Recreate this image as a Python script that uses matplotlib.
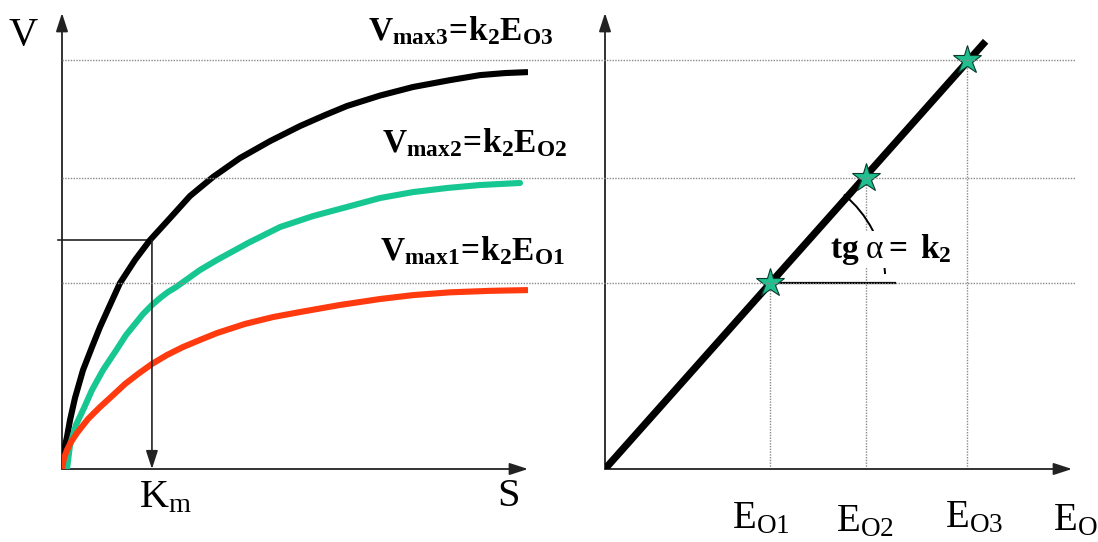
import matplotlib
matplotlib.use('Agg')
import matplotlib.pyplot as plt
from matplotlib.lines import Line2D
from matplotlib.patches import Arc
from matplotlib.transforms import blended_transform_factory

plt.rcParams['font.family'] = ['Liberation Serif', 'DejaVu Serif']
plt.rcParams['mathtext.fontset'] = 'custom'
plt.rcParams['mathtext.rm'] = 'Liberation Serif'
plt.rcParams['mathtext.it'] = 'Liberation Serif:italic'
plt.rcParams['mathtext.bf'] = 'Liberation Serif:bold'

# ---------------- data ----------------
# Left panel: V vs S curves
s_black = [0.0, 0.043, 0.107, 0.172, 0.279, 0.451, 0.644, 0.815, 1.03, 1.245, 1.567, 1.888,
           2.318, 2.747, 3.240, 3.820, 4.464, 5.107, 5.644, 6.116, 6.824, 7.532, 8.326, 8.970,
           9.506, 9.979]
v_black = [0.0, 0.102, 0.172, 0.263, 0.382, 0.532, 0.656, 0.763, 0.882, 1.0, 1.124, 1.231,
           1.349, 1.468, 1.570, 1.672, 1.763, 1.844, 1.903, 1.952, 2.008, 2.054, 2.091, 2.118,
           2.129, 2.134]

s_green = [0.107, 0.172, 0.300, 0.472, 0.644, 0.880, 1.180, 1.373, 1.567, 1.738, 1.931, 2.103,
           2.275, 2.446, 2.597, 2.961, 3.326, 3.991, 4.678, 5.386, 6.116, 6.824, 7.532, 8.262,
           8.970, 9.828]
v_green = [0.0, 0.129, 0.237, 0.328, 0.425, 0.532, 0.645, 0.720, 0.780, 0.833, 0.882, 0.919,
           0.952, 0.978, 1.005, 1.070, 1.124, 1.215, 1.301, 1.360, 1.409, 1.457, 1.489, 1.511,
           1.527, 1.538]

s_red = [0.0, 0.043, 0.107, 0.193, 0.322, 0.558, 0.815, 1.073, 1.352, 1.631, 1.931, 2.253,
         2.597, 2.961, 3.326, 3.927, 4.528, 5.107, 5.966, 6.824, 7.532, 8.326, 9.185, 9.979]
v_red = [0.0, 0.059, 0.102, 0.145, 0.194, 0.269, 0.333, 0.392, 0.457, 0.511, 0.565, 0.613,
         0.656, 0.694, 0.731, 0.780, 0.817, 0.844, 0.882, 0.914, 0.935, 0.950, 0.958, 0.962]

km = 1.93
v_km = 1.23

# Right panel: V vs E0
e0 = [1.0, 1.577, 2.19]
vmax = [1.0, 1.565, 2.20]
k2 = 1.0
e_line = [0.0, 2.30]
e_tangent_end = 1.75

vmax_labels = [r'$\mathbf{V_{max1}\!=\!k_2E_{O1}}$',
               r'$\mathbf{V_{max2}\!=\!k_2E_{O2}}$',
               r'$\mathbf{V_{max3}\!=\!k_2E_{O3}}$']
e_labels = [r'$\mathrm{E_{O1}}$', r'$\mathrm{E_{O2}}$', r'$\mathrm{E_{O3}}$']

# ---------------- figure ----------------
W, H = 1098, 542
fig = plt.figure(figsize=(W / 100, H / 100), dpi=100)

def fx(px):
    return px / W

def fy(py):
    return 1 - py / H

ax1 = fig.add_axes([fx(62), fy(469), (528 - 62) / W, (469 - 13) / H])
ax2 = fig.add_axes([fx(605), fy(469), (1072 - 605) / W, (469 - 13) / H])
ax1.set_xlim(0, 10)
ax1.set_ylim(0, 2.452)
ax2.set_xlim(0, 2.822)
ax2.set_ylim(0, 2.452)
for ax in (ax1, ax2):
    ax.set_axis_off()
    arrow = dict(arrowstyle='-|>,head_length=0.8,head_width=0.26', color='#222222',
                 lw=1.3, shrinkA=0, shrinkB=0, mutation_scale=14)
    ax.annotate('', xy=(0, 1), xytext=(0, 0), xycoords='axes fraction',
                arrowprops=arrow, annotation_clip=False)
    ax.annotate('', xy=(1, 0), xytext=(0, 0), xycoords='axes fraction',
                arrowprops=arrow, annotation_clip=False)

# dotted horizontal lines across both panels
dot_tr = blended_transform_factory(fig.transFigure, ax1.transData)
for v in vmax:
    fig.add_artist(Line2D([fx(62), fx(1075)], [v, v], transform=dot_tr,
                          color='#8a8a8a', lw=1.0, ls=(0, (1, 1)), zorder=1))

# curves
style = dict(lw=4.4, solid_capstyle='round', solid_joinstyle='round', zorder=3)
ax1.plot(s_black, v_black, color='black', **style)
ax1.plot(s_green, v_green, color='#17C792', **style)
ax1.plot(s_red, v_red, color='#FF3A0E', **style)

# Km construction
ax1.plot([-0.08, km], [v_km, v_km], color='#222222', lw=1.2, clip_on=False, zorder=2)
ax1.annotate('', xy=(km, 0), xytext=(km, v_km), xycoords='data',
             arrowprops=dict(arrowstyle='-|>,head_length=0.8,head_width=0.26', color='#222222',
                             lw=1.2, shrinkA=0, shrinkB=0, mutation_scale=14))

# right panel
for e, v in zip(e0, vmax):
    ax2.plot([e, e], [0, v], color='#8a8a8a', lw=1.0, ls=(0, (1, 1)), zorder=1)
ax2.plot(e_line, [k2 * e for e in e_line], color='black', lw=5.2, solid_capstyle='butt', zorder=3)
ax2.plot(e0, vmax, ls='none', marker='*', ms=21, mfc='#1FBF8F', mec='#0b3b2c', mew=0.8, zorder=5)
ax2.plot([e0[0], e_tangent_end], [vmax[0], vmax[0]], color='black', lw=1.6, zorder=2)

# angle arc (pixel-circle radius 115 px around first star)
rx = 2 * 115 / 165.5
ry = 2 * 115 / 186.0
ax2.add_patch(Arc((e0[0], vmax[0]), rx, ry, theta1=4, theta2=47, color='black', lw=1.4, zorder=2))

# ---------------- texts ----------------
fig.text(fx(23), fy(45), 'V', fontsize=29, ha='center', va='baseline')
fig.text(fx(139), fy(507), r'$\mathrm{K_m}$', fontsize=29, ha='left', va='baseline')
fig.text(fx(509), fy(506), 'S', fontsize=29, ha='center', va='baseline')

for lab, px, py in zip(e_labels, [732, 836, 945], [528, 531, 527]):
    fig.text(fx(px), fy(py), lab, fontsize=28, ha='left', va='baseline')
fig.text(fx(1053), fy(530), r'$\mathrm{E_{O}}$', fontsize=28, ha='left', va='baseline')

for lab, px, py in zip(vmax_labels, [380, 382, 368], [260, 152, 40]):
    fig.text(fx(px), fy(py), lab, fontsize=24, ha='left', va='baseline')

fig.text(fx(830), fy(258), r'$\mathbf{tg}\ \mathrm{\alpha}\mathbf{=\ k_2}$', fontsize=24,
         ha='left', va='baseline',
         bbox=dict(facecolor='white', edgecolor='none', pad=1), zorder=4)

fig.savefig('out.png', dpi=100)
